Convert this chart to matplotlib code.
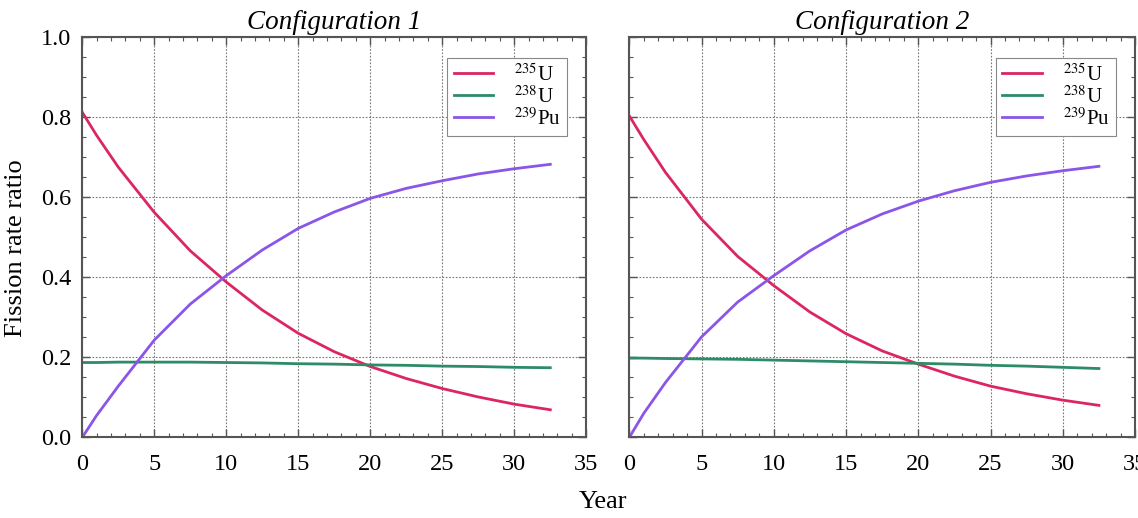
import matplotlib
matplotlib.use("Agg")
import matplotlib.pyplot as plt
from matplotlib.ticker import MultipleLocator

plt.rcParams['font.family'] = ['Liberation Serif', 'DejaVu Serif']
plt.rcParams['mathtext.fontset'] = 'stix'

years = [0, 1, 2.5, 5, 7.5, 10, 12.5, 15, 17.5, 20, 22.5, 25, 27.5, 30, 32.5]

# Configuration 1
u235_c1 = [0.812, 0.754, 0.675, 0.562, 0.466, 0.388, 0.318, 0.260, 0.214, 0.177,
           0.147, 0.122, 0.101, 0.083, 0.069]
u238_c1 = [0.187, 0.187, 0.188, 0.188, 0.188, 0.187, 0.186, 0.184, 0.183, 0.181,
           0.180, 0.178, 0.177, 0.175, 0.174]
pu239_c1 = [0.0, 0.055, 0.128, 0.243, 0.333, 0.404, 0.468, 0.522, 0.563, 0.597,
            0.622, 0.641, 0.658, 0.671, 0.682]

# Configuration 2
u235_c2 = [0.803, 0.744, 0.662, 0.545, 0.452, 0.379, 0.313, 0.259, 0.216, 0.183,
           0.153, 0.128, 0.109, 0.093, 0.080]
u238_c2 = [0.198, 0.198, 0.197, 0.196, 0.195, 0.193, 0.191, 0.189, 0.187, 0.185,
           0.183, 0.180, 0.178, 0.175, 0.172]
pu239_c2 = [0.0, 0.060, 0.137, 0.251, 0.338, 0.404, 0.466, 0.518, 0.558, 0.590,
            0.616, 0.637, 0.653, 0.666, 0.677]

titles = ["Configuration 1", "Configuration 2"]
labels = [r"$^{235}$U", r"$^{238}$U", r"$^{239}$Pu"]
colors = ["#dc2660", "#2e8b67", "#8b55e8"]

fig = plt.figure(figsize=(11.38, 5.18), dpi=100)
ax1 = fig.add_axes([0.0723, 0.1556, 0.4429, 0.7730])
ax2 = fig.add_axes([0.5530, 0.1556, 0.4444, 0.7730])

datasets = [(u235_c1, u238_c1, pu239_c1), (u235_c2, u238_c2, pu239_c2)]

for i, (ax, series) in enumerate(zip([ax1, ax2], datasets)):
    for y, c, lab in zip(series, colors, labels):
        ax.plot(years, y, color=c, lw=2.0, label=lab)
    ax.set_xlim(0, 35)
    ax.set_ylim(0, 1.0)
    ax.xaxis.set_major_locator(MultipleLocator(5))
    ax.xaxis.set_minor_locator(MultipleLocator(1))
    ax.yaxis.set_major_locator(MultipleLocator(0.2))
    ax.yaxis.set_minor_locator(MultipleLocator(0.05))
    ax.grid(True, which='major', linestyle=(0, (1.5, 1.5)), color='#777777', lw=0.8)
    ax.tick_params(which='both', direction='in', top=True, right=True,
                   colors='#555555', labelcolor='black', labelsize=17.5)
    ax.tick_params(which='major', length=6, width=1)
    ax.tick_params(which='minor', length=3, width=0.8)
    ax.tick_params(axis='x', pad=12)
    ax.tick_params(axis='y', pad=8)
    for s in ax.spines.values():
        s.set_color('#555555')
        s.set_linewidth(1.5)
    ax.set_title(titles[i], fontsize=19.5, style='italic', pad=6)
    ax.yaxis.set_major_formatter(plt.FormatStrFormatter('%.1f'))
    leg = ax.legend(loc='upper right', bbox_to_anchor=(0.962, 0.948), fontsize=15,
                    handlelength=1.9, handletextpad=1.0, labelspacing=0.02,
                    fancybox=False, edgecolor='#888888', framealpha=1,
                    borderpad=0.3, borderaxespad=0)
    leg.get_frame().set_linewidth(0.8)

ax2.tick_params(axis='y', labelleft=False)

fig.text(0.014, 0.521, "Fission rate ratio", rotation=90, fontsize=19,
         ha='center', va='center')
fig.text(0.53, 0.03, "Year", fontsize=19, ha='center', va='center')

fig.savefig("out.png", dpi=100)
